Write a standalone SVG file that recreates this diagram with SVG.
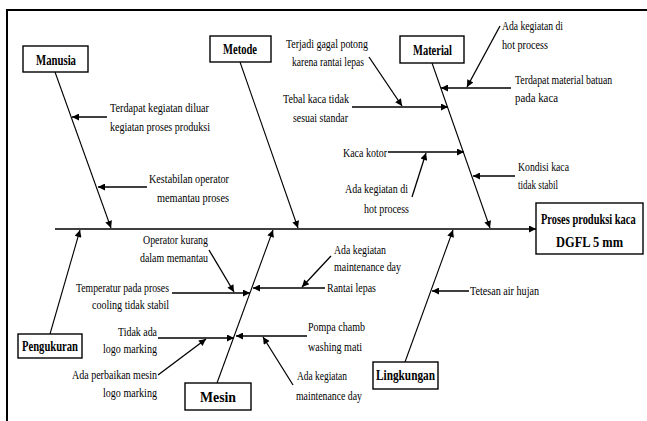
<svg xmlns="http://www.w3.org/2000/svg" width="647" height="421" viewBox="0 0 647 421">
<defs>
<marker id="ah" viewBox="0 0 10 10" refX="10" refY="5" markerWidth="9" markerHeight="7" markerUnits="userSpaceOnUse" orient="auto">
<path d="M0,0 L10,5 L0,10 z" fill="#000"/>
</marker>
<style>
.t{font-family:"Liberation Serif","Times New Roman",serif;font-size:13.5px;fill:#000}
.b{font-family:"Liberation Serif","Times New Roman",serif;font-size:14.5px;font-weight:bold;fill:#000}
.box{fill:#fff;stroke:#000;stroke-width:1.4}
.bone{stroke:#000;stroke-width:1.1;fill:none;marker-end:url(#ah)}
.sub{stroke:#000;stroke-width:1.3;fill:none;marker-end:url(#ah)}
</style>
</defs>
<rect width="647" height="421" fill="#fff"/>
<path d="M7,421 V10 H647" fill="none" stroke="#000" stroke-width="2"/>

<g id="connectors">
<line x1="55" y1="229" x2="536" y2="229" stroke="#000" stroke-width="1.7" marker-end="url(#ah)"/>
<line class="bone" x1="55" y1="72" x2="111" y2="228"/>
<line class="bone" x1="240" y1="62" x2="298" y2="228"/>
<line class="bone" x1="432" y1="63" x2="490" y2="228"/>
<line class="bone" x1="50" y1="334" x2="80" y2="230"/>
<line class="bone" x1="217" y1="383" x2="273" y2="230"/>
<line class="bone" x1="405" y1="362" x2="453" y2="230"/>
<line class="sub" x1="107" y1="117" x2="72" y2="117"/>
<line class="sub" x1="147" y1="187" x2="98" y2="187"/>
<line class="sub" x1="352" y1="107" x2="448" y2="107"/>
<line class="sub" x1="369" y1="57" x2="402" y2="106"/>
<line class="sub" x1="511" y1="88" x2="441" y2="88"/>
<line class="sub" x1="500" y1="26" x2="467" y2="87"/>
<line class="sub" x1="388" y1="152" x2="464" y2="152"/>
<line class="sub" x1="412" y1="197" x2="426" y2="153"/>
<line class="sub" x1="515" y1="176" x2="473" y2="176"/>
<line class="sub" x1="325" y1="288" x2="253" y2="288"/>
<line class="sub" x1="331" y1="256" x2="302" y2="287"/>
<line class="sub" x1="172" y1="293" x2="250" y2="293"/>
<line class="sub" x1="209" y1="250" x2="234" y2="292"/>
<line class="sub" x1="158" y1="338" x2="234" y2="338"/>
<line class="sub" x1="158" y1="375" x2="206" y2="339"/>
<line class="sub" x1="307" y1="336" x2="236" y2="336"/>
<line class="sub" x1="293" y1="385" x2="263" y2="337"/>
<line class="sub" x1="469" y1="291" x2="432" y2="291"/>
</g>

<g id="manusia">
<rect class="box" x="23" y="46" width="65" height="26"/>
<text class="b" x="36" y="65" textLength="40" lengthAdjust="spacingAndGlyphs">Manusia</text>
</g>
<g id="metode">
<rect class="box" x="210" y="36" width="61" height="26"/>
<text class="b" x="223" y="54" textLength="34" lengthAdjust="spacingAndGlyphs">Metode</text>
</g>
<g id="material">
<rect class="box" x="400" y="36" width="64" height="27"/>
<text class="b" x="413" y="55" textLength="39" lengthAdjust="spacingAndGlyphs">Material</text>
</g>
<g id="pengukuran">
<rect class="box" x="18" y="334" width="64" height="24"/>
<text class="b" x="22" y="351" textLength="56" lengthAdjust="spacingAndGlyphs">Pengukuran</text>
</g>
<g id="mesin">
<rect class="box" x="185" y="383" width="66" height="27"/>
<text class="b" x="200" y="402" textLength="36" lengthAdjust="spacingAndGlyphs">Mesin</text>
</g>
<g id="lingkungan">
<rect class="box" x="373" y="362" width="65" height="27"/>
<text class="b" x="376" y="380" textLength="59" lengthAdjust="spacingAndGlyphs">Lingkungan</text>
</g>
<g id="effect">
<rect class="box" x="536" y="203" width="107" height="51"/>
<text class="b" transform="translate(541,224) scale(0.72,1)" x="0" y="0">Proses produksi kaca</text>
<text class="b" x="556" y="247" textLength="67" lengthAdjust="spacingAndGlyphs">DGFL 5 mm</text>
</g>

<g id="cause-texts">
<text class="t" x="110" y="112" textLength="99" lengthAdjust="spacingAndGlyphs">Terdapat kegiatan diluar</text>
<text class="t" x="110" y="131" textLength="100" lengthAdjust="spacingAndGlyphs">kegiatan proses produksi</text>
<text class="t" x="149" y="183" textLength="80" lengthAdjust="spacingAndGlyphs">Kestabilan operator</text>
<text class="t" x="157" y="202" textLength="72" lengthAdjust="spacingAndGlyphs">memantau proses</text>
<text class="t" x="286" y="48" textLength="82" lengthAdjust="spacingAndGlyphs">Terjadi gagal potong</text>
<text class="t" x="292" y="66" textLength="72" lengthAdjust="spacingAndGlyphs">karena rantai lepas</text>
<text class="t" x="283" y="103" textLength="66" lengthAdjust="spacingAndGlyphs">Tebal kaca tidak</text>
<text class="t" x="293" y="122" textLength="55" lengthAdjust="spacingAndGlyphs">sesuai standar</text>
<text class="t" x="502" y="30" textLength="61" lengthAdjust="spacingAndGlyphs">Ada kegiatan di</text>
<text class="t" x="502" y="49" textLength="46" lengthAdjust="spacingAndGlyphs">hot process</text>
<text class="t" transform="translate(515,84) scale(0.726,1)" x="0" y="0">Terdapat material batuan</text>
<text class="t" x="515" y="102" textLength="43" lengthAdjust="spacingAndGlyphs">pada kaca</text>
<text class="t" x="343" y="157" textLength="44" lengthAdjust="spacingAndGlyphs">Kaca kotor</text>
<text class="t" x="345" y="193" textLength="63" lengthAdjust="spacingAndGlyphs">Ada kegiatan di</text>
<text class="t" x="364" y="213" textLength="45" lengthAdjust="spacingAndGlyphs">hot process</text>
<text class="t" x="518" y="171" textLength="51" lengthAdjust="spacingAndGlyphs">Kondisi kaca</text>
<text class="t" x="518" y="189" textLength="40" lengthAdjust="spacingAndGlyphs">tidak stabil</text>
<text class="t" x="143" y="244" textLength="65" lengthAdjust="spacingAndGlyphs">Operator kurang</text>
<text class="t" x="140" y="262" textLength="68" lengthAdjust="spacingAndGlyphs">dalam memantau</text>
<text class="t" x="334" y="254" textLength="52" lengthAdjust="spacingAndGlyphs">Ada kegiatan</text>
<text class="t" x="334" y="271" textLength="67" lengthAdjust="spacingAndGlyphs">maintenance day</text>
<text class="t" x="76" y="292" textLength="93" lengthAdjust="spacingAndGlyphs">Temperatur pada proses</text>
<text class="t" x="92" y="309" textLength="77" lengthAdjust="spacingAndGlyphs">cooling tidak stabil</text>
<text class="t" x="327" y="292" textLength="49" lengthAdjust="spacingAndGlyphs">Rantai lepas</text>
<text class="t" x="118" y="336" textLength="39" lengthAdjust="spacingAndGlyphs">Tidak ada</text>
<text class="t" x="103" y="353" textLength="54" lengthAdjust="spacingAndGlyphs">logo marking</text>
<text class="t" x="308" y="331" textLength="57" lengthAdjust="spacingAndGlyphs">Pompa chamb</text>
<text class="t" x="308" y="351" textLength="54" lengthAdjust="spacingAndGlyphs">washing mati</text>
<text class="t" x="72" y="379" textLength="85" lengthAdjust="spacingAndGlyphs">Ada perbaikan mesin</text>
<text class="t" x="103" y="397" textLength="54" lengthAdjust="spacingAndGlyphs">logo marking</text>
<text class="t" x="297" y="380" textLength="50" lengthAdjust="spacingAndGlyphs">Ada kegiatan</text>
<text class="t" x="296" y="400" textLength="66" lengthAdjust="spacingAndGlyphs">maintenance day</text>
<text class="t" x="470" y="295" textLength="69" lengthAdjust="spacingAndGlyphs">Tetesan air hujan</text>
</g>
</svg>
